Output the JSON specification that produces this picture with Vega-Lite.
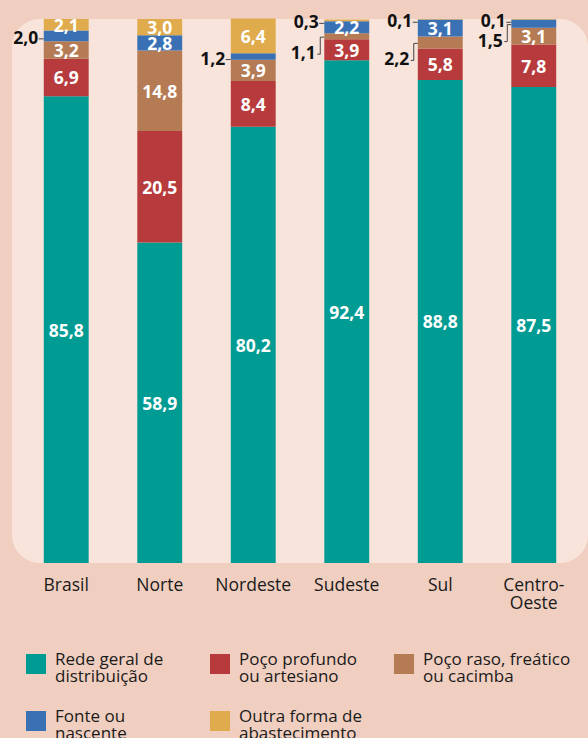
{
  "$schema": "https://vega.github.io/schema/vega-lite/v6.json",
  "width": 576,
  "height": 544,
  "autosize": {"type": "none"},
  "padding": {"left": 12, "top": 19, "right": 0, "bottom": 175},
  "background": "#f0cfc0",
  "data": {
    "values": [
      {"regiao": "Brasil", "tipo": "Rede geral de distribuição", "ord": 1, "valor": 85.8},
      {"regiao": "Brasil", "tipo": "Poço profundo ou artesiano", "ord": 2, "valor": 6.9},
      {"regiao": "Brasil", "tipo": "Poço raso, freático ou cacimba", "ord": 3, "valor": 3.2},
      {"regiao": "Brasil", "tipo": "Fonte ou nascente", "ord": 4, "valor": 2.0},
      {"regiao": "Brasil", "tipo": "Outra forma de abastecimento", "ord": 5, "valor": 2.1},
      {"regiao": "Norte", "tipo": "Rede geral de distribuição", "ord": 1, "valor": 58.9},
      {"regiao": "Norte", "tipo": "Poço profundo ou artesiano", "ord": 2, "valor": 20.5},
      {"regiao": "Norte", "tipo": "Poço raso, freático ou cacimba", "ord": 3, "valor": 14.8},
      {"regiao": "Norte", "tipo": "Fonte ou nascente", "ord": 4, "valor": 2.8},
      {"regiao": "Norte", "tipo": "Outra forma de abastecimento", "ord": 5, "valor": 3.0},
      {"regiao": "Nordeste", "tipo": "Rede geral de distribuição", "ord": 1, "valor": 80.2},
      {"regiao": "Nordeste", "tipo": "Poço profundo ou artesiano", "ord": 2, "valor": 8.4},
      {"regiao": "Nordeste", "tipo": "Poço raso, freático ou cacimba", "ord": 3, "valor": 3.9},
      {"regiao": "Nordeste", "tipo": "Fonte ou nascente", "ord": 4, "valor": 1.2},
      {"regiao": "Nordeste", "tipo": "Outra forma de abastecimento", "ord": 5, "valor": 6.4},
      {"regiao": "Sudeste", "tipo": "Rede geral de distribuição", "ord": 1, "valor": 92.4},
      {"regiao": "Sudeste", "tipo": "Poço profundo ou artesiano", "ord": 2, "valor": 3.9},
      {"regiao": "Sudeste", "tipo": "Poço raso, freático ou cacimba", "ord": 3, "valor": 1.1},
      {"regiao": "Sudeste", "tipo": "Fonte ou nascente", "ord": 4, "valor": 2.2},
      {"regiao": "Sudeste", "tipo": "Outra forma de abastecimento", "ord": 5, "valor": 0.3},
      {"regiao": "Sul", "tipo": "Rede geral de distribuição", "ord": 1, "valor": 88.8},
      {"regiao": "Sul", "tipo": "Poço profundo ou artesiano", "ord": 2, "valor": 5.8},
      {"regiao": "Sul", "tipo": "Poço raso, freático ou cacimba", "ord": 3, "valor": 2.2},
      {"regiao": "Sul", "tipo": "Fonte ou nascente", "ord": 4, "valor": 3.1},
      {"regiao": "Sul", "tipo": "Outra forma de abastecimento", "ord": 5, "valor": 0.1},
      {"regiao": "Centro-Oeste", "tipo": "Rede geral de distribuição", "ord": 1, "valor": 87.5},
      {"regiao": "Centro-Oeste", "tipo": "Poço profundo ou artesiano", "ord": 2, "valor": 7.8},
      {"regiao": "Centro-Oeste", "tipo": "Poço raso, freático ou cacimba", "ord": 3, "valor": 3.1},
      {"regiao": "Centro-Oeste", "tipo": "Fonte ou nascente", "ord": 4, "valor": 1.5},
      {"regiao": "Centro-Oeste", "tipo": "Outra forma de abastecimento", "ord": 5, "valor": 0.1}
    ]
  },
  "encoding": {
    "x": {
      "field": "regiao",
      "type": "nominal",
      "sort": ["Brasil", "Norte", "Nordeste", "Sudeste", "Sul", "Centro-Oeste"],
      "scale": {"paddingInner": 0.52, "paddingOuter": 0.34},
      "axis": {
        "title": null,
        "domain": false,
        "ticks": false,
        "labelAngle": 0,
        "labelPadding": 13,
        "labelFont": "Open Sans",
        "labelFontSize": 17.5,
        "labelColor": "#1a1a1a",
        "labelLineHeight": 18,
        "labelBaseline": "top",
        "labelExpr": "datum.label == 'Centro-Oeste' ? ['Centro-', 'Oeste'] : datum.label"
      }
    },
    "order": {"field": "ord", "type": "quantitative"},
    "detail": {"field": "tipo"}
  },
  "layer": [
    {
      "mark": {"type": "bar"},
      "encoding": {
        "y": {"field": "valor", "type": "quantitative", "stack": "zero", "scale": {"domain": [0, 100], "nice": false}, "axis": null},
        "color": {
          "field": "tipo",
          "type": "nominal",
          "scale": {
            "domain": ["Rede geral de distribuição", "Poço profundo ou artesiano", "Poço raso, freático ou cacimba", "Fonte ou nascente", "Outra forma de abastecimento"],
            "range": ["#009b93", "#b73b3d", "#b47b55", "#3a71b5", "#dfab4d"]
          },
          "legend": {
            "title": null,
            "orient": "none",
            "legendX": 14,
            "legendY": 635,
            "direction": "horizontal",
            "columns": 3,
            "gridAlign": "all",
            "columnPadding": 7,
            "rowPadding": 23,
            "padding": 0,
            "symbolType": "square",
            "symbolSize": 400,
            "symbolStrokeWidth": 0,
            "symbolOpacity": 1,
            "labelFont": "Open Sans",
            "labelFontSize": 17,
            "labelColor": "#1a1a1a",
            "labelLimit": 0,
            "labelOffset": 9,
            "labelBaseline": "middle",
            "labelExpr": "datum.label == 'Rede geral de distribuição' ? ['Rede geral de', 'distribuição'] : datum.label == 'Poço profundo ou artesiano' ? ['Poço profundo', 'ou artesiano'] : datum.label == 'Poço raso, freático ou cacimba' ? ['Poço raso, freático', 'ou cacimba'] : datum.label == 'Fonte ou nascente' ? ['Fonte ou', 'nascente'] : ['Outra forma de', 'abastecimento']",
            "encode": {"labels": {"update": {"lineHeight": {"value": 17}, "dy": {"value": -4}}}}
          }
        }
      }
    },
    {
      "mark": {"type": "text", "font": "Open Sans", "fontSize": 17.5, "fontWeight": "bold", "color": "#ffffff", "baseline": "middle", "dy": 2},
      "encoding": {
        "y": {"field": "valor", "type": "quantitative", "stack": "zero", "bandPosition": 0.5},
        "text": {
          "condition": {
            "test": "!((datum.ord == 4 && (datum.regiao == 'Brasil' || datum.regiao == 'Nordeste')) || datum.valor < 0.5 || (datum.ord == 3 && (datum.regiao == 'Sudeste' || datum.regiao == 'Sul')) || (datum.ord == 4 && datum.regiao == 'Centro-Oeste'))",
            "field": "valor", "type": "quantitative", "format": ".1f"
          },
          "value": ""
        }
      }
    },
    {
      "mark": {"type": "text", "font": "Open Sans", "fontSize": 17.5, "fontWeight": "bold", "color": "#111111", "baseline": "middle", "align": "right", "dx": -28, "dy": 3},
      "encoding": {
        "y": {"field": "valor", "type": "quantitative", "stack": "zero", "bandPosition": 0.5},
        "text": {
          "condition": {
            "test": "(datum.ord == 4 && (datum.regiao == 'Brasil' || datum.regiao == 'Nordeste')) || datum.valor < 0.5",
            "field": "valor", "type": "quantitative", "format": ".1f"
          },
          "value": ""
        }
      }
    },
    {
      "mark": {"type": "text", "font": "Open Sans", "fontSize": 17.5, "fontWeight": "bold", "color": "#111111", "baseline": "middle", "align": "right", "dx": -31, "dy": 18},
      "encoding": {
        "y": {"field": "valor", "type": "quantitative", "stack": "zero", "bandPosition": 0.5},
        "text": {
          "condition": {
            "test": "(datum.ord == 3 && (datum.regiao == 'Sudeste' || datum.regiao == 'Sul')) || (datum.ord == 4 && datum.regiao == 'Centro-Oeste')",
            "field": "valor", "type": "quantitative", "format": ".1f"
          },
          "value": ""
        }
      }
    },
    {
      "mark": {"type": "tick", "orient": "horizontal", "size": 5, "thickness": 1, "xOffset": -25, "yOffset": 3, "color": "#444444"},
      "encoding": {
        "y": {"field": "valor", "type": "quantitative", "stack": "zero", "bandPosition": 0.5},
        "opacity": {
          "condition": {"test": "(datum.ord == 4 && (datum.regiao == 'Brasil' || datum.regiao == 'Nordeste')) || datum.valor < 0.5", "value": 1},
          "value": 0
        }
      }
    },
    {
      "mark": {"type": "tick", "orient": "horizontal", "size": 4, "thickness": 1, "xOffset": -24.5, "yOffset": 1, "color": "#444444"},
      "encoding": {
        "y": {"field": "valor", "type": "quantitative", "stack": "zero", "bandPosition": 0.5},
        "opacity": {
          "condition": {"test": "(datum.ord == 3 && (datum.regiao == 'Sudeste' || datum.regiao == 'Sul')) || (datum.ord == 4 && datum.regiao == 'Centro-Oeste')", "value": 1},
          "value": 0
        }
      }
    },
    {
      "mark": {"type": "tick", "orient": "horizontal", "size": 1, "thickness": 17, "xOffset": -26.5, "yOffset": 9.5, "color": "#444444"},
      "encoding": {
        "y": {"field": "valor", "type": "quantitative", "stack": "zero", "bandPosition": 0.5},
        "opacity": {
          "condition": {"test": "(datum.ord == 3 && (datum.regiao == 'Sudeste' || datum.regiao == 'Sul')) || (datum.ord == 4 && datum.regiao == 'Centro-Oeste')", "value": 1},
          "value": 0
        }
      }
    },
    {
      "mark": {"type": "tick", "orient": "horizontal", "size": 3, "thickness": 1, "xOffset": -28, "yOffset": 18, "color": "#444444"},
      "encoding": {
        "y": {"field": "valor", "type": "quantitative", "stack": "zero", "bandPosition": 0.5},
        "opacity": {
          "condition": {"test": "(datum.ord == 3 && (datum.regiao == 'Sudeste' || datum.regiao == 'Sul')) || (datum.ord == 4 && datum.regiao == 'Centro-Oeste')", "value": 1},
          "value": 0
        }
      }
    }
  ],
  "config": {
    "locale": {"number": {"decimal": ",", "thousands": ".", "grouping": [3], "currency": ["R$ ", ""]}},
    "view": {"fill": "#f8e4da", "stroke": null, "cornerRadius": 28},
    "font": "Open Sans"
  }
}
